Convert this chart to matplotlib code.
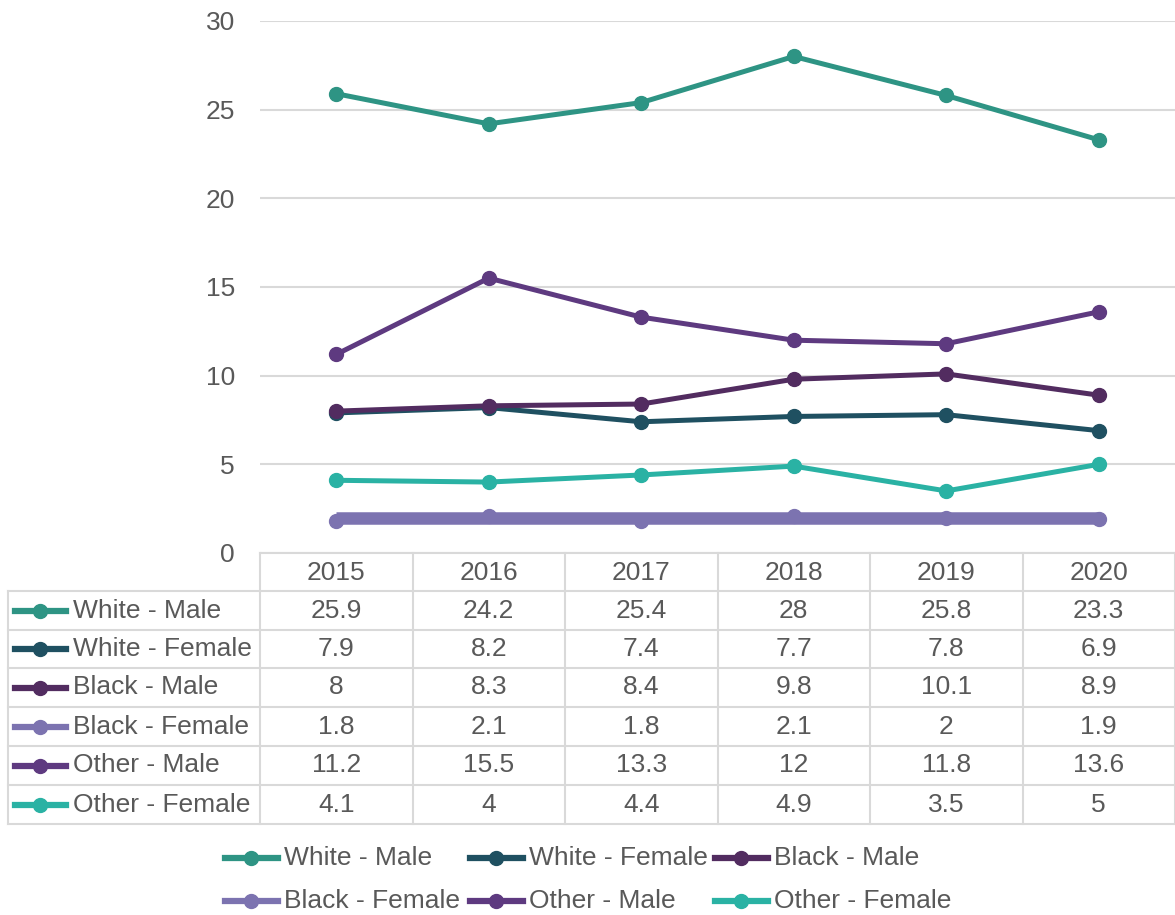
import numpy as np
import matplotlib
matplotlib.use("Agg")
import matplotlib.pyplot as plt
from matplotlib.lines import Line2D

plt.rcParams["font.family"] = ["Liberation Sans", "DejaVu Sans"]

years = ["2015", "2016", "2017", "2018", "2019", "2020"]
series_names = ["White - Male", "White - Female", "Black - Male",
                "Black - Female", "Other - Male", "Other - Female"]
white_male = [25.9, 24.2, 25.4, 28, 25.8, 23.3]
white_female = [7.9, 8.2, 7.4, 7.7, 7.8, 6.9]
black_male = [8, 8.3, 8.4, 9.8, 10.1, 8.9]
black_female = [1.8, 2.1, 1.8, 2.1, 2, 1.9]
other_male = [11.2, 15.5, 13.3, 12, 11.8, 13.6]
other_female = [4.1, 4, 4.4, 4.9, 3.5, 5]
colors = ["#2E9484", "#1F5061", "#522C60", "#7C73B0", "#5E3A80", "#2AB2A4"]

values = [white_male, white_female, black_male, black_female, other_male, other_female]

W, H = 1175, 915
txt = "#595959"
grid = "#D9D9D9"
fs = 19

fig = plt.figure(figsize=(W / 100, H / 100), dpi=100)

# main plot area, pixel box
left, right, top, bottom = 260, 1175, 21, 553
ax = fig.add_axes([left / W, 1 - bottom / H, (right - left) / W, (bottom - top) / H])
x = np.arange(len(years))
for name, vals, c in zip(series_names, values, colors):
    if name == "Black - Female":
        # this series shows as a thick flat band in the original
        ax.plot(x, [np.mean(vals)] * len(x), color=c, lw=9, solid_capstyle="butt", zorder=2)
        ax.plot(x, vals, "o", color=c, ms=10, zorder=3)
    else:
        ax.plot(x, vals, "-o", color=c, lw=3.6, ms=10, zorder=3)
ax.set_xlim(-0.5, len(years) - 0.5)
ax.set_ylim(0, 30)
ax.set_yticks(range(0, 31, 5))
ax.set_xticks([])
ax.yaxis.grid(True, color=grid, lw=1.5)
ax.set_axisbelow(True)
for s in ax.spines.values():
    s.set_visible(False)
ax.tick_params(axis="y", length=0, pad=18, labelsize=fs, labelcolor=txt)

# overlay in pixel coordinates for the data table and legend
ov = fig.add_axes([0, 0, 1, 1])
ov.set_xlim(0, W)
ov.set_ylim(H, 0)
ov.axis("off")

col_w = (right - left) / len(years)
row_edges = [553, 591, 630, 668, 707, 746, 785, 824]
tab_left = 8

# grid lines of the table
ov.plot([left, right], [row_edges[0]] * 2, color=grid, lw=1.5)
for ry in row_edges[1:]:
    ov.plot([tab_left, right], [ry, ry], color=grid, lw=1.5)
ov.plot([tab_left, tab_left], [row_edges[1], row_edges[-1]], color=grid, lw=1.5)
for i in range(len(years) + 1):
    cx = left + i * col_w
    ov.plot([cx, cx], [row_edges[0], row_edges[-1]], color=grid, lw=1.5)

# header
for i, yr in enumerate(years):
    ov.text(left + (i + 0.5) * col_w, (row_edges[0] + row_edges[1]) / 2 + 1, yr,
            ha="center", va="center", fontsize=fs, color=txt)

# rows
for r, (name, vals, c) in enumerate(zip(series_names, values, colors)):
    yc = (row_edges[r + 1] + row_edges[r + 2]) / 2
    ov.add_line(Line2D([15, 66], [yc, yc], color=c, lw=4.5))
    ov.plot([40], [yc], "o", color=c, ms=10)
    ov.text(73, yc, name, ha="left", va="center", fontsize=fs, color=txt)
    for i, v in enumerate(vals):
        ov.text(left + (i + 0.5) * col_w, yc, f"{v:g}", ha="center", va="center",
                fontsize=fs, color=txt)

# bottom legend
leg_x = [225, 470, 715]
leg_y = [858, 901]
for k, (name, c) in enumerate(zip(series_names, colors)):
    lx = leg_x[k % 3]
    ly = leg_y[k // 3]
    ov.add_line(Line2D([lx, lx + 53], [ly, ly], color=c, lw=4.5))
    ov.plot([lx + 26], [ly], "o", color=c, ms=10)
    ov.text(lx + 59, ly, name, ha="left", va="center", fontsize=fs, color=txt)

fig.savefig("out.png", dpi=100)
